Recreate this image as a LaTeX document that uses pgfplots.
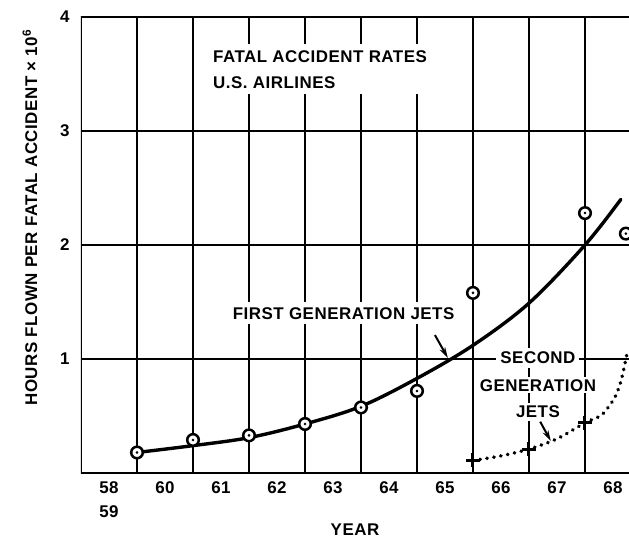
\documentclass[border=0pt]{standalone}
\usepackage{fontspec}
\setmainfont{Liberation Sans}[LetterSpace=3]
\usepackage{pgfplots}
\pgfplotsset{compat=1.18}
\usetikzlibrary{arrows.meta}
\newcommand\chartfont{\fontsize{17}{24}\selectfont\bfseries}
% heavy plus sign for the second generation points
\pgfdeclareplotmark{bigplus}{%
  \pgfsetlinewidth{3bp}%
  \pgfsetdash{}{0pt}%
  \pgfpathmoveto{\pgfqpoint{-\pgfplotmarksize}{0pt}}%
  \pgfpathlineto{\pgfqpoint{\pgfplotmarksize}{0pt}}%
  \pgfpathmoveto{\pgfqpoint{0pt}{-\pgfplotmarksize}}%
  \pgfpathlineto{\pgfqpoint{0pt}{\pgfplotmarksize}}%
  \pgfusepathqstroke}
\begin{document}
\begin{tikzpicture}
\begin{axis}[
  scale only axis, width=548bp, height=456bp,
  xmin=0, xmax=9.786, ymin=0, ymax=4,
  axis line style={draw=none},
  xtick={0.5,1.5,...,9.5},
  xticklabels={{58\\59},60,61,62,63,64,65,66,67,68},
  ytick={1,2,3,4}, yticklabels={1,2,3,4},
  tick style={draw=none},
  ymajorgrids,
  extra x ticks={1,2,...,9}, extra x tick labels={},
  extra x tick style={grid=major},
  grid style={black, line width=1.2bp},
  ticklabel style={font=\chartfont},
  xticklabel style={align=center, yshift=-5bp},
  yticklabel style={xshift=-8bp},
  xlabel={YEAR},
  ylabel={HOURS FLOWN PER FATAL ACCIDENT × 10\textsuperscript{6}},
  every axis x label/.style={at={(axis description cs:0.5,-0.125)}, anchor=center, font=\chartfont},
  every axis y label/.style={at={(axis description cs:-0.093,0.56)}, rotate=90, anchor=center, font=\chartfont},
]
% first generation jets, fitted curve
\addplot[black, line width=3.4bp, smooth, tension=0.55, line cap=round] coordinates {
  (1,0.18) (2,0.24) (3,0.31) (4,0.43) (5,0.585) (6,0.83)
  (7,1.12) (8,1.49) (9,2.0) (9.64,2.40)
};
% second generation jets, dotted curve
\addplot[black, line width=3.6bp, dash pattern=on 0.4bp off 6.6bp, line cap=round, smooth, tension=0.5] coordinates {
  (7,0.11) (7.5,0.15) (8,0.21) (8.5,0.30) (9,0.44)
  (9.27,0.50) (9.39,0.56) (9.54,0.67) (9.65,0.82) (9.76,1.07)
};
% first generation data points
\addplot[only marks, mark=*, mark size=5.8bp,
  mark options={fill=white, draw=black, line width=2.5bp}] coordinates {
  (1,0.18) (2,0.29) (3,0.33) (4,0.43) (5,0.575) (6,0.72)
  (7,1.58) (9,2.28) (9.73,2.10)
};
\addplot[only marks, mark=*, mark size=1.1bp, black] coordinates {
  (1,0.18) (2,0.29) (3,0.33) (4,0.43) (5,0.575) (6,0.72)
  (7,1.58) (9,2.28) (9.73,2.10)
};
% second generation data points
\addplot[only marks, mark=bigplus, mark size=7bp, black] coordinates {
  (7,0.114) (8,0.21) (9,0.44)
};

\draw[line width=2.6bp] (rel axis cs:1,1) -- (rel axis cs:0,1) -- (rel axis cs:0,0) -- (rel axis cs:1,0);

\node[fill=white, inner sep=6bp, align=left, anchor=west, font=\chartfont]
  at (axis cs:2.25,3.54) {FATAL ACCIDENT RATES\\[2bp]U.S. AIRLINES};
\node[fill=white, inner sep=5bp, font=\chartfont] at (axis cs:4.69,1.40) {FIRST GENERATION JETS};
\draw[-{Stealth[length=11bp,width=6bp]}, line width=2bp] (axis cs:6.32,1.21) -- (axis cs:6.55,1.01);
\node[fill=white, inner sep=4bp, font=\chartfont] at (axis cs:8.16,1.01) {SECOND};
\node[fill=white, inner sep=2bp, font=\chartfont] at (axis cs:8.16,0.77) {GENERATION};
\node[fill=white, inner sep=3bp, font=\chartfont] at (axis cs:8.16,0.535) {JETS};
\draw[-{Stealth[length=11bp,width=6bp]}, line width=2bp] (axis cs:8.2,0.45) -- (axis cs:8.39,0.28);

\coordinate (bl) at (rel axis cs:0,0);
\coordinate (tr) at (rel axis cs:1,1);
\end{axis}
\pgfresetboundingbox
\useasboundingbox ([shift={(-81bp,-70bp)}]bl) rectangle ([shift={(0bp,17bp)}]tr);
\end{tikzpicture}
\end{document}
